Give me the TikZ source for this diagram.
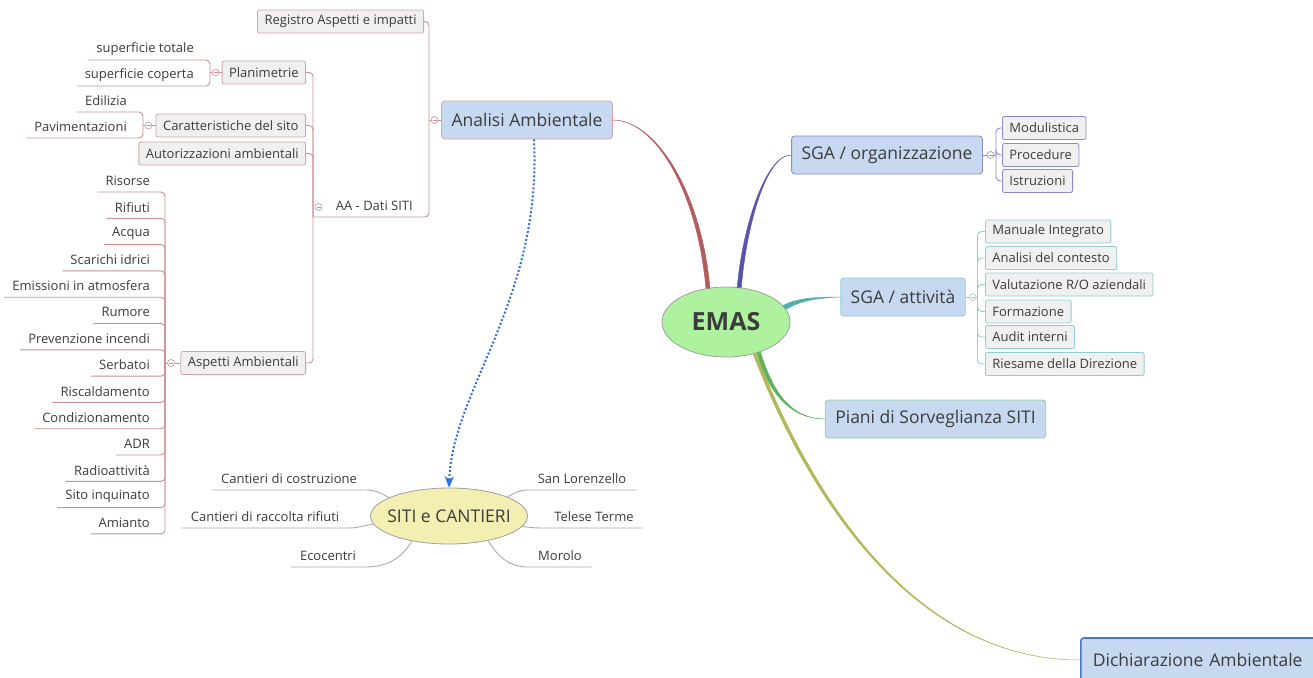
\documentclass[tikz,border=0pt]{standalone}
\usepackage{fontspec}
\setmainfont{Open Sans}
\usetikzlibrary{shapes.geometric,arrows.meta}

\definecolor{txt}{HTML}{3C3C3C}
\definecolor{topicbg}{HTML}{C6D9F1}
\definecolor{leafbg}{HTML}{F0F0F0}
\definecolor{redB}{HTML}{D4A5A5}
\definecolor{redL}{HTML}{C99090}
\definecolor{redT}{HTML}{B35C5C}
\definecolor{purB}{HTML}{8C8CD0}
\definecolor{purT}{HTML}{5555B0}
\definecolor{tealB}{HTML}{8ECFCF}
\definecolor{tealT}{HTML}{4FB0B0}
\definecolor{greenB}{HTML}{8FCF8F}
\definecolor{greenT}{HTML}{5DB35D}
\definecolor{oliveT}{HTML}{B5B55A}
\definecolor{dicB}{HTML}{4A74C9}
\definecolor{emasG}{HTML}{AEF2A0}
\definecolor{sitiY}{HTML}{F3EFB2}
\definecolor{grayL}{HTML}{ABABAB}
\definecolor{linkB}{HTML}{2F6FE0}

\tikzset{
  smallfont/.style={font=\fontsize{13}{15}\selectfont, text=txt},
  leaf/.style={smallfont, draw=#1, fill=leafbg, rounded corners=2, minimum height=23, inner xsep=7, inner ysep=0, line width=0.8},
  topic/.style={draw=#1, fill=topicbg, rounded corners=3, minimum height=38, inner xsep=10, line width=0.8,
                font=\fontsize{17.5}{20}\selectfont, text=txt},
  ul/.style={smallfont, inner xsep=8, inner ysep=0, minimum height=22},
  knob/.style={circle, draw=#1, fill=white, minimum size=7, inner sep=0, line width=0.6,
               path picture={\draw[#1, line width=0.6] ([xshift=-2pt]path picture bounding box.center) -- ([xshift=2pt]path picture bounding box.center);}},
  bracket/.style={draw=#1, line width=0.9, rounded corners=4},
  twig/.style={draw=grayL, line width=0.9},
  taper/.style={fill=#1, draw=#1, line width=0.5},
}

\begin{document}
\begin{tikzpicture}[x=1pt,y=-1pt]
\useasboundingbox (0,0) rectangle (1313,677);

% ---------- central topic ----------
\node[ellipse, draw=gray!75, fill=emasG, line width=0.8, minimum width=128, minimum height=70, inner sep=0,
      font=\fontsize{25}{29}\selectfont\bfseries, text=txt] (emas) at (726,322) {EMAS};

% ---------- main topics ----------
\node[topic=redB] (an) at (527,120) {Analisi Ambientale};
\node[topic=purB] (org) at (887,155) {SGA / organizzazione};
\node[topic=tealB] (att) at (903,297) {SGA / attività};
\node[topic=greenB] (pia) at (935.5,419) {Piani di Sorveglianza SITI};
\node[topic=dicB, line width=1.6, anchor=west, minimum height=44, text width=234, align=left, inner xsep=12]
      (dic) at (1080,660) {Dichiarazione Ambientale};

% ---------- tapered branches from EMAS ----------
\filldraw[taper=redT] ([xshift=-2]emas.118) .. controls (697,190) and (655,120) .. (an.east)
   .. controls (655,120) and (701,190) .. ([xshift=2]emas.118) -- cycle;
\filldraw[taper=purT] ([xshift=-2]emas.69) .. controls (742,230) and (765,155) .. (org.west)
   .. controls (765,155) and (746,230) .. ([xshift=2]emas.69) -- cycle;
\filldraw[taper=tealT] (emas.16) .. controls (797,298) and (815,297) .. (att.west)
   .. controls (815,298) and (800,301) .. (emas.12) -- cycle;
\filldraw[taper=greenT] ([xshift=-2]emas.317) .. controls (768,392) and (790,419) .. (pia.west)
   .. controls (790,419) and (772,390) .. ([xshift=2]emas.317) -- cycle;
\filldraw[taper=oliveT] ([xshift=-1.5]emas.312) .. controls (805,490) and (910,660) .. (dic.west)
   .. controls (910,660) and (808,488) .. ([xshift=1.5]emas.312) -- cycle;

% ---------- Analisi Ambientale subtree ----------
\node[leaf=redB, anchor=east] (reg) at (424,21.5) {Registro Aspetti e impatti};
\node[ul, anchor=south east] (aa) at (421,217) {AA - Dati SITI};
\coordinate (jAn) at (429,120);
\node[knob=redL] (kAn) at (434.5,120) {};
\draw[bracket=redL] (reg.east) -| (jAn);
\coordinate (jAA) at (313,217);
\draw[bracket=redL] (jAA) -- (aa.south east) -| (jAn);
\draw[redL, line width=0.9] (jAn) -- (kAn.west) (kAn.east) -- (an.west);

\node[leaf=redB, anchor=east] (pla) at (306,72.5) {Planimetrie};
\node[leaf=redB, anchor=east] (car) at (306,125.5) {Caratteristiche del sito};
\node[leaf=redB, anchor=east] (aut) at (306,153.5) {Autorizzazioni ambientali};
\node[leaf=redB, anchor=east] (asp) at (306,363) {Aspetti Ambientali};
\foreach \c in {pla,car,aut,asp} \draw[bracket=redL] (\c.east) -| (jAA);
\node[knob=redL] (kAA) at (318.5,207) {};

% Planimetrie
\node[ul, anchor=south east] (sup1) at (202,60) {superficie totale};
\node[ul, anchor=south east] (sup2) at (202,86) {superficie coperta};
\coordinate (jPl) at (210,72.5);
\node[knob=redL] (kPl) at (215.5,72.5) {};
\draw[bracket=redL] (sup1.south west) -| (jPl);
\draw[bracket=redL] (sup2.south west) -| (jPl);
\draw[redL, line width=0.9] (jPl) -- (kPl.west) (kPl.east) -- (pla.west);

% Caratteristiche del sito
\node[ul, anchor=south east] (edi) at (135,112) {Edilizia};
\node[ul, anchor=south east] (pav) at (135,138) {Pavimentazioni};
\coordinate (jCa) at (143,125.5);
\node[knob=redL] (kCa) at (148.5,125.5) {};
\draw[bracket=redL] (edi.south west) -| (jCa);
\draw[bracket=redL] (pav.south west) -| (jCa);
\draw[redL, line width=0.9] (jCa) -- (kCa.west) (kCa.east) -- (car.west);

% Aspetti Ambientali
\coordinate (jAs) at (165,363);
\foreach \t [count=\i from 0] in {Risorse,Rifiuti,Acqua,Scarichi idrici,Emissioni in atmosfera,Rumore,
    Prevenzione incendi,Serbatoi,Riscaldamento,Condizionamento,ADR,Radioattività,Sito inquinato,Amianto}{
  \node[ul, anchor=south east] (as\i) at (158,{192+26.3*\i}) {\t};
  \draw[bracket=redL] (as\i.south west) -| (jAs);
}
\node[knob=redL] (kAs) at (171,363) {};
\draw[redL, line width=0.9] (jAs) -- (kAs.west) (kAs.east) -- (asp.west);

% ---------- SGA / organizzazione subtree ----------
\node[leaf=purB, anchor=west] (mod) at (1002,128) {Modulistica};
\node[leaf=purB, anchor=west] (pro) at (1002,155) {Procedure};
\node[leaf=purB, anchor=west] (ist) at (1002,181) {Istruzioni};
\coordinate (jOr) at (996,155);
\node[knob=purB] (kOr) at (990.5,155) {};
\foreach \c in {mod,pro,ist} \draw[bracket=purB] (\c.west) -| (jOr);
\draw[purB, line width=0.9] (org.east) -- (kOr.west) (kOr.east) -- (jOr);

% ---------- SGA / attività subtree ----------
\coordinate (jAt) at (977.5,297);
\node[knob=tealB] (kAt) at (972.5,297) {};
\node[leaf=tealB, anchor=west] (at1) at (985,231.5) {Manuale Integrato};
\node[leaf=tealB, anchor=west] (at2) at (985,258) {Analisi del contesto};
\node[leaf=tealB, anchor=west] (at3) at (985,284.5) {Valutazione R/O aziendali};
\node[leaf=tealB, anchor=west] (at4) at (985,311.5) {Formazione};
\node[leaf=tealB, anchor=west] (at5) at (985,337) {Audit interni};
\node[leaf=tealB, anchor=west] (at6) at (985,364) {Riesame della Direzione};
\foreach \i in {1,...,6} \draw[bracket=tealB] (at\i.west) -| (jAt);
\draw[tealB, line width=0.9] (att.east) -- (kAt.west) (kAt.east) -- (jAt);

% ---------- SITI e CANTIERI ----------
\node[ellipse, draw=gray!75, fill=sitiY, line width=0.8, minimum width=157, minimum height=56,
      inner xsep=-10, inner ysep=0, font=\fontsize{17.5}{20}\selectfont, text=txt] (siti) at (449,516) {SITI e CANTIERI};

\node[ul, inner xsep=9, anchor=south] (cos) at (289,490) {Cantieri di costruzione};
\node[ul, inner xsep=9, anchor=south] (rac) at (265,528) {Cantieri di raccolta rifiuti};
\node[ul, inner xsep=9, anchor=south] (eco) at (328,567) {Ecocentri};
\node[ul, inner xsep=10, anchor=south] (san) at (582,490) {San Lorenzello};
\node[ul, inner xsep=9, anchor=south] (tel) at (594,528) {Telese Terme};
\node[ul, inner xsep=10, anchor=south] (mor) at (560,567) {Morolo};

\draw[twig] (cos.south west) -- (cos.south east) to[out=0, in=150] (siti.163);
\draw[twig] (rac.south west) -- (rac.south east) to[out=0, in=190] (siti.186);
\draw[twig] (eco.south west) -- (eco.south east) to[out=0, in=240] (siti.214);
\draw[twig] (siti.18) to[out=30, in=180] (san.south west) -- (san.south east);
\draw[twig] (siti.352) to[out=-10, in=180] (tel.south west) -- (tel.south east);
\draw[twig] (siti.328) to[out=-60, in=180] (mor.south west) -- (mor.south east);

% ---------- relationship link ----------
\draw[linkB, line width=2, dash pattern=on 2 off 2, -{Stealth[length=11, width=9, inset=3]}]
  ([xshift=7]an.south) .. controls (542,300) and (452,390) .. (siti.north);

\end{tikzpicture}
\end{document}
